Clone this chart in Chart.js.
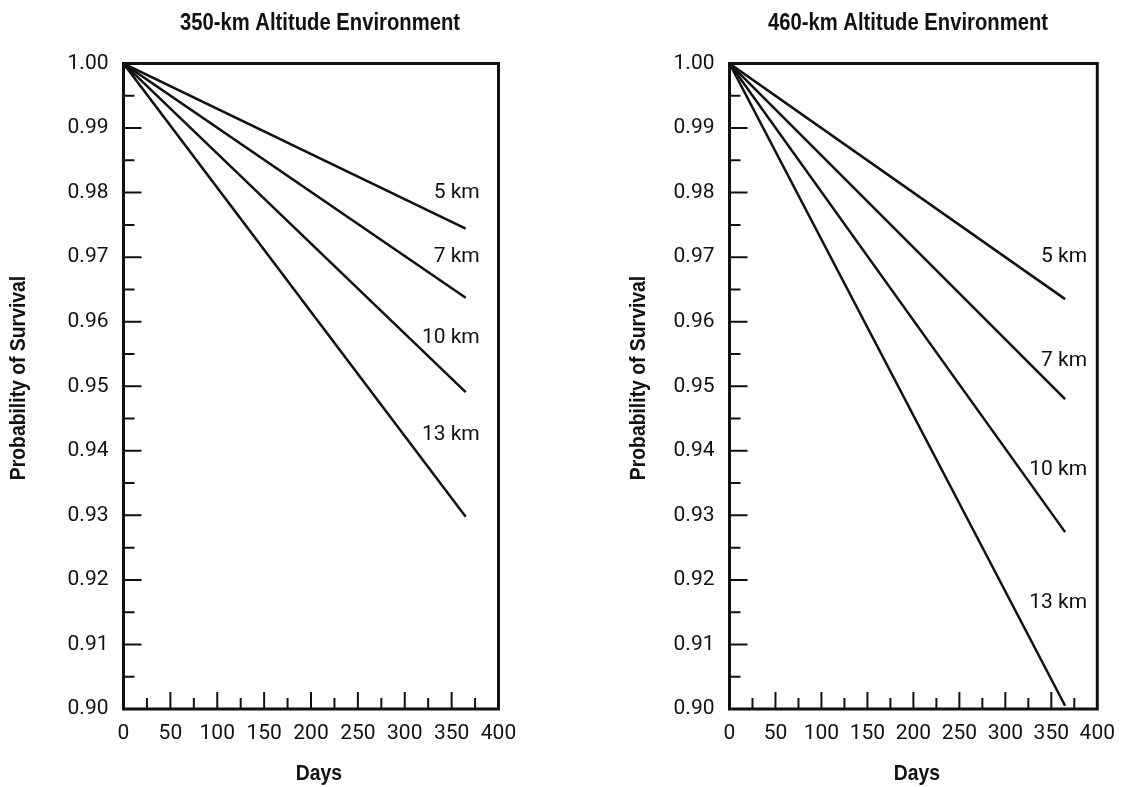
<!DOCTYPE html>
<html>
<head>
<meta charset="utf-8">
<script src="https://cdn.jsdelivr.net/npm/chart.js@4.4.1/dist/chart.umd.min.js"></script>
<style>
  html, body { margin: 0; padding: 0; background: #fff; }
  body { width: 1127px; height: 787px; position: relative; overflow: hidden; }
  .box { position: absolute; top: 0; height: 787px; }
  #box350 { left: 0; width: 560px; }
  #box460 { left: 620px; width: 507px; }
</style>
</head>
<body>
<div class="box" id="box350"><canvas id="chart350"></canvas></div>
<div class="box" id="box460"><canvas id="chart460"></canvas></div>
<script>
// mission length and survival curves (start at 1.00 on day 0)
const days = [0, 365];
const debrisSizes = ['5 km', '7 km', '10 km', '13 km'];
const survival350 = [[1.00, 0.9744], [1.00, 0.9637], [1.00, 0.9491], [1.00, 0.9298]];
const survival460 = [[1.00, 0.9635], [1.00, 0.9480], [1.00, 0.9274], [1.00, 0.9005]];

// axis ticks
const xTicks = [0, 50, 100, 150, 200, 250, 300, 350, 400];
const xMinor = [25, 75, 125, 175, 225, 275, 325, 375];
const yTicks = [0.90, 0.91, 0.92, 0.93, 0.94, 0.95, 0.96, 0.97, 0.98, 0.99, 1.00];
const yMinor = [0.905, 0.915, 0.925, 0.935, 0.945, 0.955, 0.965, 0.975, 0.985, 0.995];

// where the size labels sit (day, probability)
const labelDay350 = 380;
const labelY350 = [0.980, 0.970, 0.9575, 0.9425];
const labelDay460 = 389;
const labelY460 = [0.970, 0.954, 0.937, 0.9165];

const ink = '#111';
const plainFont = 'Roboto, "Liberation Sans", sans-serif';
const boldFont = '"Liberation Sans", Arial, sans-serif';

// bold headings are squeezed sideways to get a condensed face
function narrowText(ctx, text, x, y, size, angle) {
  ctx.save();
  ctx.translate(x, y);
  ctx.rotate(angle);
  ctx.scale(0.88, 1);
  ctx.font = 'bold ' + size + 'px ' + boldFont;
  ctx.textAlign = 'center';
  ctx.textBaseline = 'middle';
  ctx.fillText(text, 0, 0);
  ctx.restore();
}

// frame, inward ticks, curve labels and titles
const decorations = {
  id: 'decorations',
  afterDraw(chart, args, opts) {
    const ctx = chart.ctx;
    const a = chart.chartArea;
    const xs = chart.scales.x, ys = chart.scales.y;
    ctx.save();
    ctx.strokeStyle = ink;
    ctx.lineWidth = 2;
    ctx.beginPath();
    yTicks.slice(1, -1).forEach(v => {
      const py = ys.getPixelForValue(v);
      ctx.moveTo(a.left, py); ctx.lineTo(a.left + 18, py);
    });
    yMinor.forEach(v => {
      const py = ys.getPixelForValue(v);
      ctx.moveTo(a.left, py); ctx.lineTo(a.left + 11, py);
    });
    xTicks.slice(1, -1).forEach(v => {
      const px = xs.getPixelForValue(v);
      ctx.moveTo(px, a.bottom); ctx.lineTo(px, a.bottom - 17);
    });
    xMinor.forEach(v => {
      const px = xs.getPixelForValue(v);
      ctx.moveTo(px, a.bottom); ctx.lineTo(px, a.bottom - 11);
    });
    ctx.stroke();

    ctx.lineWidth = 3;
    ctx.strokeRect(a.left, a.top, a.right - a.left, a.bottom - a.top);

    ctx.fillStyle = ink;
    ctx.font = '21px ' + plainFont;
    ctx.textAlign = 'right';
    ctx.textBaseline = 'middle';
    opts.labelY.forEach((v, i) => {
      ctx.fillText(debrisSizes[i], xs.getPixelForValue(opts.labelDay), ys.getPixelForValue(v));
    });

    narrowText(ctx, opts.title, opts.titleX, 24, 23, 0);
    narrowText(ctx, 'Days', opts.daysX, 774, 22, 0);
    narrowText(ctx, 'Probability of Survival', 19, 378, 22, -Math.PI / 2);
    ctx.restore();
  }
};

function makeChart(id, series, opts) {
  return new Chart(document.getElementById(id), {
    type: 'line',
    data: {
      datasets: series.map((vals, i) => ({
        label: debrisSizes[i],
        data: days.map((d, j) => ({ x: d, y: vals[j] })),
        borderColor: ink,
        borderWidth: 2.5,
        pointRadius: 0,
        fill: false
      }))
    },
    options: {
      responsive: true,
      maintainAspectRatio: false,
      animation: false,
      events: [],
      layout: { padding: { left: 0, right: opts.padRight, top: 63.5, bottom: 0 } },
      plugins: {
        legend: { display: false },
        tooltip: { enabled: false },
        decorations: opts
      },
      scales: {
        x: {
          type: 'linear',
          min: 0,
          max: 400,
          afterBuildTicks: s => { s.ticks = xTicks.map(v => ({ value: v })); },
          afterFit: s => { s.height = 78; },
          grid: { display: false, drawTicks: false },
          border: { display: false },
          ticks: { color: ink, font: { family: plainFont, size: 21 }, padding: 12, maxRotation: 0 }
        },
        y: {
          min: 0.90,
          max: 1.00,
          afterBuildTicks: s => { s.ticks = yTicks.map(v => ({ value: v })); },
          afterFit: s => { s.width = opts.yWidth; },
          grid: { display: false, drawTicks: false },
          border: { display: false },
          ticks: { color: ink, font: { family: plainFont, size: 21 }, padding: 15, callback: v => v.toFixed(2) }
        }
      }
    },
    plugins: [decorations]
  });
}

makeChart('chart350', survival350, {
  title: '350-km Altitude Environment', titleX: 320, daysX: 319,
  labelDay: labelDay350, labelY: labelY350,
  yWidth: 123.5, padRight: 61.5
});
makeChart('chart460', survival460, {
  title: '460-km Altitude Environment', titleX: 288, daysX: 297,
  labelDay: labelDay460, labelY: labelY460,
  yWidth: 109.5, padRight: 25
});
</script>
</body>
</html>
